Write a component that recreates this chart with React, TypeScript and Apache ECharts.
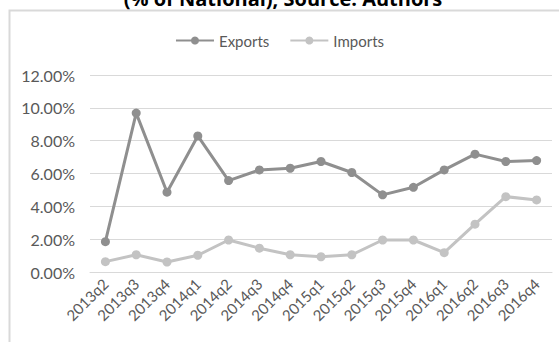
import React, { useEffect, useRef } from "react";
import * as echarts from "echarts";

const categories = ["2013q2","2013q3","2013q4","2014q1","2014q2","2014q3","2014q4","2015q1","2015q2","2015q3","2015q4","2016q1","2016q2","2016q3","2016q4"];
const exportsData = [1.85, 9.68, 4.86, 8.29, 5.57, 6.22, 6.32, 6.73, 6.06, 4.70, 5.16, 6.22, 7.18, 6.73, 6.79];
const importsData = [0.63, 1.05, 0.61, 1.02, 1.95, 1.45, 1.05, 0.93, 1.05, 1.95, 1.95, 1.18, 2.91, 4.59, 4.39];
const titleText = "(% of National), Source: Authors";

export default function App() {
  const ref = useRef<HTMLDivElement>(null);
  useEffect(() => {
    const chart = echarts.init(ref.current!, null, { renderer: "svg" });
    const font = "Lato, 'Open Sans', sans-serif";
    chart.setOption({
      animation: false,
      backgroundColor: "#ffffff",
      textStyle: { fontFamily: font },
      graphic: [
        {
          type: "rect",
          shape: { x: 9.5, y: 10.5, width: 560, height: 340 },
          style: { fill: "none", stroke: "#d9d9d9", lineWidth: 2 },
          silent: true,
        },
        {
          type: "text",
          x: 283,
          y: 8,
          style: {
            text: titleText,
            fill: "#000000",
            font: "bold 20px 'Open Sans', sans-serif",
            textAlign: "center",
            textVerticalAlign: "bottom",
          },
        },
      ],
      legend: {
        top: 28,
        left: "center",
        itemWidth: 38,
        itemHeight: 10,
        itemGap: 20,
        textStyle: { color: "#595959", fontSize: 15, fontFamily: font },
        data: ["Exports", "Imports"],
      },
      grid: { left: 90, right: 7, top: 75, bottom: 70 },
      xAxis: {
        type: "category",
        data: categories,
        boundaryGap: true,
        axisLine: { show: true, lineStyle: { color: "#d9d9d9" } },
        axisTick: { show: false },
        axisLabel: { rotate: 45, color: "#595959", fontSize: 15, interval: 0, margin: 9, fontFamily: font },
      },
      yAxis: {
        type: "value",
        min: 0,
        max: 12,
        interval: 2,
        axisLine: { show: false },
        axisTick: { show: false },
        axisLabel: { color: "#595959", fontSize: 16, margin: 15, fontFamily: font, formatter: (v: number) => v.toFixed(2) + "%" },
        splitLine: { lineStyle: { color: "#d9d9d9", width: 1 } },
      },
      series: [
        {
          name: "Exports",
          type: "line",
          data: exportsData,
          symbol: "circle",
          symbolSize: 9,
          lineStyle: { color: "#8f8f8f", width: 3 },
          itemStyle: { color: "#8f8f8f" },
        },
        {
          name: "Imports",
          type: "line",
          data: importsData,
          symbol: "circle",
          symbolSize: 9,
          lineStyle: { color: "#c3c3c3", width: 3 },
          itemStyle: { color: "#c3c3c3" },
        },
      ],
    });
    return () => chart.dispose();
  }, []);
  return <div ref={ref} style={{ position: "absolute", left: 0, top: 0, width: 559, height: 342 }} />;
}
